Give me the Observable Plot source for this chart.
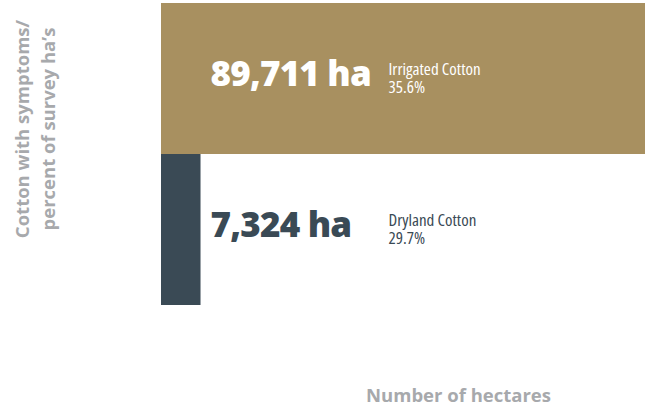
<!DOCTYPE html>
<html>
<head>
<meta charset="utf-8">
<script src="https://cdn.jsdelivr.net/npm/d3@7"></script>
<script src="https://cdn.jsdelivr.net/npm/@observablehq/plot@0.6"></script>
<style>
  html, body { margin: 0; padding: 0; background: #fff; }
  svg { display: block; }
</style>
</head>
<body>
<div id="chart"></div>
<script>
const categories = ["Irrigated Cotton", "Dryland Cotton"];
const hectares = [89711, 7324];
const percents = ["35.6%", "29.7%"];
const barColors = ["#a89060", "#3a4a55"];
const valueColors = ["#ffffff", "#3a4a55"];
const yLabel = "Cotton with symptoms/\npercent of survey ha\u2019s";
const xLabel = "Number of hectares";

const data = categories.map((c, i) => ({
  category: c,
  value: hectares[i],
  pct: percents[i],
  valueColor: valueColors[i]
}));

const gray = "#a7a9ac";

const chart = Plot.plot({
  width: 645,
  height: 407,
  marginLeft: 161,
  marginRight: 0,
  marginTop: 2,
  marginBottom: 102,
  x: { domain: [0, d3.max(hectares)], axis: null },
  y: { domain: categories, padding: 0, axis: null },
  color: { domain: categories, range: barColors },
  marks: [
    Plot.barX(data, { x: "value", y: "category", fill: "category" }),
    Plot.text(data, {
      x: d => 0, y: "category",
      text: d => d3.format(",")(d.value) + " ha",
      dx: 49, dy: -4,
      textAnchor: "start",
      fill: "valueColor",
      stroke: "#ffffff", strokeWidth: d => d.valueColor === "#ffffff" ? 0 : 1.2,
      fontFamily: "Open Sans", fontWeight: 800, fontSize: 35
    }),
    Plot.text(data, {
      x: d => 0, y: "category",
      text: d => d.category + "\n" + d.pct,
      dx: 227, dy: -1,
      textAnchor: "start",
      lineHeight: 1.06,
      fill: "valueColor",
      fontFamily: "Open Sans", fontSize: 17
    }),
    Plot.text([yLabel], {
      frameAnchor: "left",
      rotate: -90,
      dx: -128, dy: -25,
      lineHeight: 1.42,
      textAnchor: "middle",
      fill: gray,
      fontFamily: "Open Sans", fontWeight: 700, fontSize: 18.5
    }),
    Plot.text([xLabel], {
      frameAnchor: "bottom",
      dx: 55, dy: 96,
      textAnchor: "middle",
      fill: gray,
      fontFamily: "Open Sans", fontWeight: 700, fontSize: 18.5
    })
  ]
});
d3.select(chart).selectAll("text")
  .filter(function() { return / ha$/.test(this.textContent); })
  .style("letter-spacing", "-0.8px");
d3.select(chart).selectAll("text")
  .filter(function() { return /^(Irrigated|Dryland)/.test(this.textContent); })
  .style("font-stretch", "75%");
document.getElementById("chart").appendChild(chart);
</script>
</body>
</html>
